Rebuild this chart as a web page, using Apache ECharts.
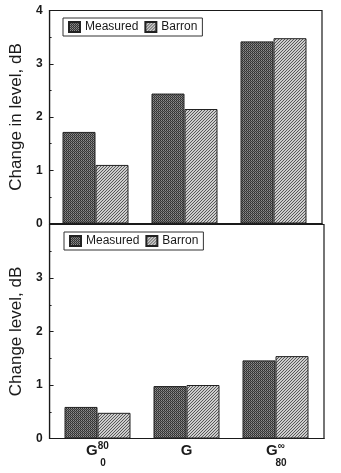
<!DOCTYPE html>
<html><head><meta charset="utf-8">
<script src="https://cdn.jsdelivr.net/npm/echarts/dist/echarts.min.js"></script>
<style>html,body{margin:0;padding:0;background:#fff}#c{width:341px;height:473px}</style>
</head><body><div id="c"></div>
<script>
const categories = ['G80_0', 'G', 'Ginf_80'];
const seriesNames = ['Measured', 'Barron'];
const measuredTop = [1.72, 2.44, 3.42];
const barronTop = [1.10, 2.15, 3.48];
const measuredBottom = [0.59, 0.98, 1.46];
const barronBottom = [0.48, 1.00, 1.54];
const yNameTop = 'Change in level, dB';
const yNameBottom = 'Change level, dB';

function makeMeasured() {
  const c = document.createElement('canvas'); c.width = 2; c.height = 2;
  const x = c.getContext('2d');
  x.fillStyle = '#2e2e2e'; x.fillRect(0, 0, 1, 1);
  x.fillStyle = '#3c3c3c'; x.fillRect(1, 1, 1, 1);
  x.fillStyle = '#8e8e8e'; x.fillRect(1, 0, 1, 1);
  x.fillStyle = '#6e6e6e'; x.fillRect(0, 1, 1, 1);
  return c;
}
function makeBarron() {
  const c = document.createElement('canvas'); c.width = 3; c.height = 3;
  const x = c.getContext('2d');
  x.fillStyle = '#cdcdcd'; x.fillRect(0, 0, 3, 3);
  x.fillStyle = '#585858';
  for (let i = 0; i < 3; i++) for (let j = 0; j < 3; j++) if ((i + j) % 3 === 2) x.fillRect(i, j, 1, 1);
  return c;
}
const measuredColor = { image: makeMeasured(), repeat: 'repeat' };
const barronColor = { image: makeBarron(), repeat: 'repeat' };

const font = 'Liberation Sans, Arial, Helvetica, sans-serif';
const ink = '#1a1a1a';

function labelFmt(v) {
  if (v === 'G80_0') return '{g|G}{sup|80}\n{gs|}{sub|0}';
  if (v === 'Ginf_80') return '{g|G}{sup|\u221E}\n{gs|}{sub|80}';
  return '{g|G}\n{sub| }';
}

function frameY(gi, name, hideMax) {
  return {
    gridIndex: gi, type: 'value', min: 0, max: 4, interval: 1,
    axisLine: { show: true, lineStyle: { color: ink, width: 1.2 } },
    axisTick: { show: true, inside: true, length: 4, lineStyle: { color: ink } },
    minorTick: { show: true, splitNumber: 2, length: 2, lineStyle: { color: ink } },
    splitLine: { show: false },
    axisLabel: { margin: 7, color: ink, fontSize: 12, fontWeight: 'bold', fontFamily: font, showMaxLabel: !hideMax },
    name: name, nameLocation: 'middle', nameGap: 18,
    nameTextStyle: { fontSize: 17, color: ink, fontFamily: font }
  };
}
function hiddenY(gi) { return { gridIndex: gi, type: 'value', min: 0, max: 4, show: false }; }

function legend(left, top) {
  return {
    left: left, top: top, orient: 'horizontal', data: seriesNames, icon: 'rect',
    itemWidth: 11, itemHeight: 10, itemGap: 6, padding: [3, 5, 3, 5],
    borderColor: '#333', borderWidth: 1, selectedMode: false,
    textStyle: { fontSize: 12, color: ink, fontFamily: font }
  };
}

function bar(name, data, idx, color) {
  return {
    name: name, type: 'bar', xAxisIndex: idx, yAxisIndex: idx, data: data,
    barWidth: 33, barGap: '0%',
    itemStyle: { color: color, borderColor: '#222', borderWidth: 1 }
  };
}

const chart = echarts.init(document.getElementById('c'), null, { renderer: 'canvas' });
chart.setOption({
  animation: false,
  backgroundColor: '#fff',
  grid: [
    { left: 46, top: 10.5, width: 276, height: 213, show: true, borderColor: ink, borderWidth: 1.2 },
    { left: 51, top: 10.5, width: 267, height: 213 },
    { left: 48, top: 224.5, width: 276, height: 214, show: true, borderColor: ink, borderWidth: 1.2 },
    { left: 53, top: 224.5, width: 267, height: 214 }
  ],
  legend: [legend(63, 18), legend(64, 232)],
  xAxis: [
    { gridIndex: 0, type: 'category', data: categories, axisLine: { show: true, lineStyle: { color: ink, width: 1.2 } }, axisTick: { show: false }, axisLabel: { show: false } },
    { gridIndex: 1, type: 'category', data: categories, show: false },
    { gridIndex: 2, type: 'category', data: categories, axisLine: { show: true, lineStyle: { color: ink, width: 1.2 } }, axisTick: { show: false }, axisLabel: { show: false } },
    { gridIndex: 3, type: 'category', data: categories, axisLine: { show: false }, axisTick: { show: false },
      axisLabel: {
        interval: 0, hideOverlap: false,
        margin: 3, formatter: labelFmt, color: ink, fontFamily: font,
        rich: {
          g: { fontSize: 15, fontWeight: 'bold', lineHeight: 17, verticalAlign: 'bottom', fontFamily: font, color: ink },
          sup: { fontSize: 10, fontWeight: 'bold', lineHeight: 17, verticalAlign: 'top', fontFamily: font, color: ink },
          gs: { width: 11, lineHeight: 9 },
          sub: { fontSize: 10, fontWeight: 'bold', lineHeight: 9, fontFamily: font, color: ink }
        }
      } }
  ],
  yAxis: [frameY(0, yNameTop, false), hiddenY(1), frameY(2, yNameBottom, true), hiddenY(3)],
  series: [
    bar(seriesNames[0], measuredTop, 1, measuredColor),
    bar(seriesNames[1], barronTop, 1, barronColor),
    bar(seriesNames[0], measuredBottom, 3, measuredColor),
    bar(seriesNames[1], barronBottom, 3, barronColor)
  ]
});
</script></body></html>
